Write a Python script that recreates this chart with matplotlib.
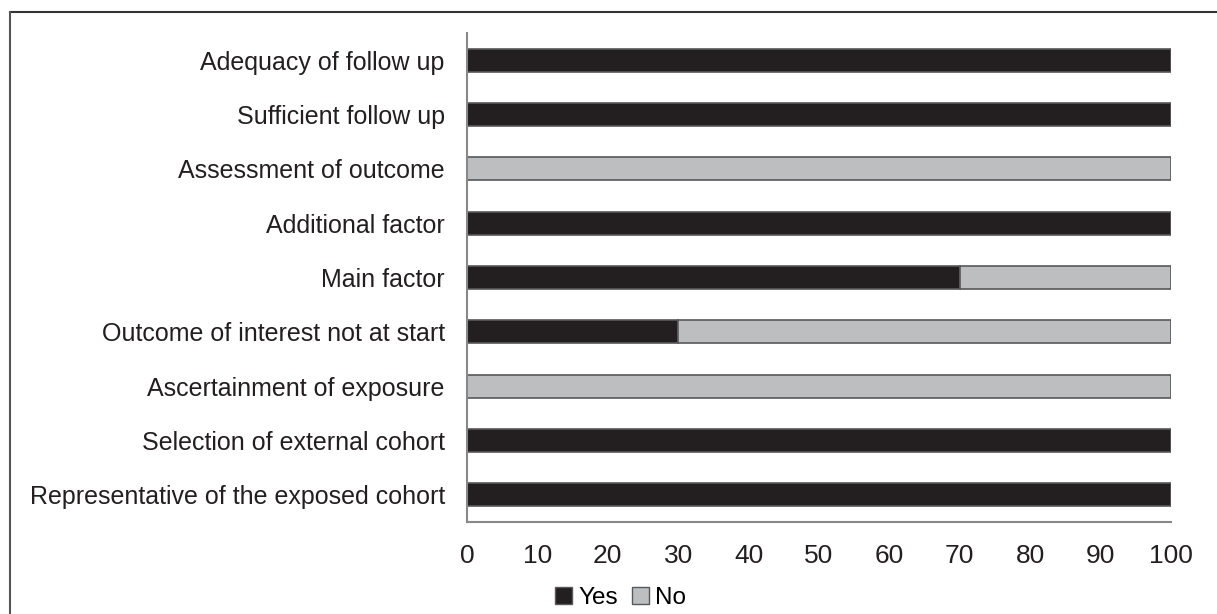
import numpy as np
import matplotlib.pyplot as plt
from matplotlib.lines import Line2D
from matplotlib.patches import Patch

# Categories listed bottom to top
categories = [
    'Representative of the exposed cohort',
    'Selection of external cohort',
    'Ascertainment of exposure',
    'Outcome of interest not at start',
    'Main factor',
    'Additional factor',
    'Assessment of outcome',
    'Sufficient follow up',
    'Adequacy of follow up',
]
yes_vals = [100, 100, 0, 30, 70, 100, 0, 100, 100]
no_vals = [0, 0, 100, 70, 30, 0, 100, 0, 0]
xticks = [0, 10, 20, 30, 40, 50, 60, 70, 80, 90, 100]

yes_color = '#231f20'
no_color = '#bcbec0'
edge = '#58585a'

plt.rcParams['font.family'] = ['Liberation Sans', 'DejaVu Sans']

fig = plt.figure(figsize=(12.17, 6.14), dpi=100)
ax = fig.add_axes([467 / 1217, 92 / 614, 704 / 1217, 489 / 614])

y = np.arange(len(categories))
h = 0.42
for yi, yv, nv in zip(y, yes_vals, no_vals):
    if yv > 0:
        ax.barh(yi, yv, height=h, color=yes_color, edgecolor=edge, linewidth=1.2)
    if nv > 0:
        ax.barh(yi, nv, left=yv, height=h, color=no_color, edgecolor=edge, linewidth=1.2)

ax.set_xlim(0, 100)
ax.set_ylim(-0.5, len(categories) - 0.5)
ax.set_yticks(y)
ax.set_yticklabels(categories, fontsize=18, color='#231f20')
ax.set_xticks(xticks)
ax.set_xticklabels([str(t) for t in xticks], fontsize=19, color='#231f20')
ax.tick_params(axis='y', length=0, pad=16)
ax.tick_params(axis='x', length=0, pad=16)

for s in ['top', 'right']:
    ax.spines[s].set_visible(False)
ax.spines['left'].set_color('#888888')
ax.spines['bottom'].set_color('#888888')
ax.spines['left'].set_linewidth(1.5)
ax.spines['bottom'].set_linewidth(1.5)

handles = [Patch(facecolor=yes_color, edgecolor=edge, label='Yes'),
           Patch(facecolor=no_color, edgecolor=edge, label='No')]
fig.legend(handles=handles, loc='lower center', bbox_to_anchor=(0.51, -0.028),
           ncol=2, frameon=False, fontsize=17.5, handlelength=0.7, handleheight=0.7,
           handletextpad=0.25, columnspacing=0.6)

# outer frame lines (top and left)
fig.add_artist(Line2D([10 / 1217, 1.0], [1 - 12 / 614, 1 - 12 / 614],
                      transform=fig.transFigure, color='#333333', linewidth=1.5))
fig.add_artist(Line2D([10 / 1217, 10 / 1217], [0, 1 - 12 / 614],
                      transform=fig.transFigure, color='#555555', linewidth=1.5))

fig.savefig('out.png', dpi=100)
